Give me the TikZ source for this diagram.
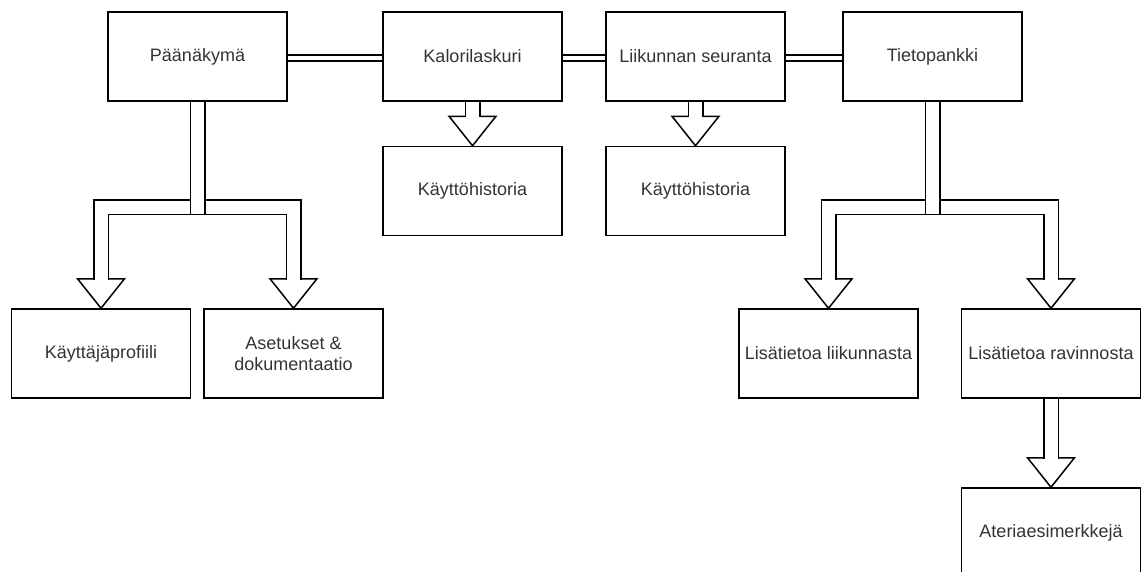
\documentclass[tikz,border=0pt]{standalone}
\usepackage{fontspec}
\setmainfont{Liberation Sans}
\usetikzlibrary{calc,backgrounds}

\tikzset{
  box/.style={draw=black, line width=1.5pt, minimum width=179pt, minimum height=89pt,
    inner sep=0pt, align=center, text=black!80, font=\fontsize{18pt}{21pt}\selectfont},
  link/.style={draw=black, line width=1.5pt, double=white, double distance=4.5pt},
  flex/.style={draw=black, line width=1.5pt, double=white, double distance=13pt},
  arrowhead/.style={draw=black, fill=white, line width=1.5pt, line join=miter}
}

% open head of a wide arrow, tip on the north side of a node
\newcommand{\flexhead}[1]{%
  \filldraw[arrowhead] ([xshift=-7.25pt,yshift=29.5pt]#1.north) -- ++(-16.25pt,0)
    -- (#1.north) -- ++(23.5pt,29.5pt) -- ++(-16.25pt,0);}

\begin{document}
\begin{tikzpicture}[x=1pt, y=-1pt]
  \useasboundingbox (0,0) rectangle (1141,571);

  % Top row
  \node[box] (paa) at (197.5,56.5) {Päänäkymä};
  \node[box] (kalori) at (472.5,56.5) {Kalorilaskuri};
  \node[box] (liikunta) at (695.5,56.5) {Liikunnan seuranta};
  \node[box] (tieto) at (932.5,56.5) {Tietopankki};

  % Histories
  \node[box] (hist1) at (472.5,191) {Käyttöhistoria};
  \node[box] (hist2) at (695.5,191) {Käyttöhistoria};

  % Bottom row
  \node[box] (profiili) at (101,353.5) {Käyttäjäprofiili};
  \node[box] (asetukset) at (293.5,353.5) {Asetukset \&\\dokumentaatio};
  \node[box] (liikinfo) at (828.5,353.5) {Lisätietoa liikunnasta};
  \node[box] (ravinto) at (1051,353.5) {Lisätietoa ravinnosta};
  \node[box] (ateria) at (1051,532.5) {Ateriaesimerkkejä};

  % Split points
  \coordinate (jpaa) at ($(paa.south)+(0,105.5)$);
  \coordinate (jtieto) at ($(tieto.south)+(0,105.5)$);

  \begin{scope}[on background layer]
    % Links between the main views
    \draw[link] ([yshift=-1.5pt]paa.east) -- ([yshift=-1.5pt]kalori.west);
    \draw[link] ([yshift=-1.5pt]kalori.east) -- ([yshift=-1.5pt]liikunta.west);
    \draw[link] ([yshift=-1.5pt]liikunta.east) -- ([yshift=-1.5pt]tieto.west);

    % Arrow heads
    \flexhead{hist1}
    \flexhead{hist2}
    \flexhead{profiili}
    \flexhead{asetukset}
    \flexhead{liikinfo}
    \flexhead{ravinto}
    \flexhead{ateria}

    % Shafts
    \draw[flex] (kalori.south) -- ([yshift=28.75pt]hist1.north);
    \draw[flex] (liikunta.south) -- ([yshift=28.75pt]hist2.north);
    \draw[flex] ([yshift=28.75pt]profiili.north) |- (jpaa) -| ([yshift=28.75pt]asetukset.north);
    \draw[flex] (paa.south) -- ([yshift=-6.5pt]jpaa);
    \draw[flex] ([yshift=28.75pt]liikinfo.north) |- (jtieto) -| ([yshift=28.75pt]ravinto.north);
    \draw[flex] (tieto.south) -- ([yshift=-6.5pt]jtieto);
    \draw[flex] (ravinto.south) -- ([yshift=28.75pt]ateria.north);
  \end{scope}
\end{tikzpicture}
\end{document}
